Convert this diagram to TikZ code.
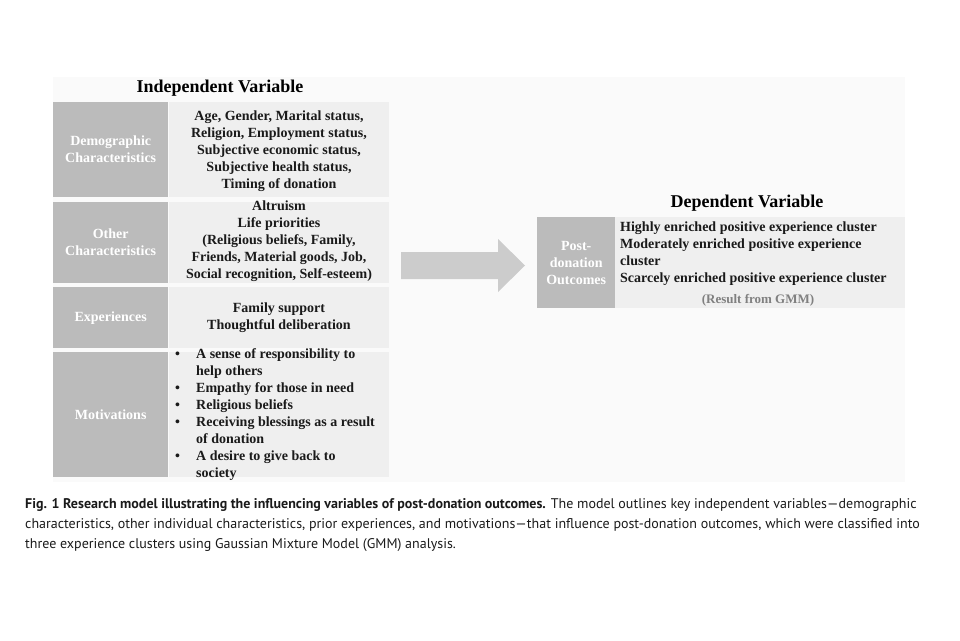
\documentclass[tikz,border=0pt]{standalone}
\usepackage{fontspec}
\setmainfont{Liberation Serif}
\newfontfamily\capfont{PT Sans}
\usepackage{tikz}
\usetikzlibrary{positioning}
\definecolor{labfill}{HTML}{BBBBBB}
\definecolor{cellfill}{HTML}{EFEFEF}
\definecolor{arrfill}{HTML}{CCCCCC}
\definecolor{backfill}{HTML}{FAFAFA}
\definecolor{inktext}{HTML}{1A1A1A}
\tikzset{
  labelbox/.style={fill=labfill, text=white, inner sep=0pt, align=center, anchor=north west,
    font=\bfseries\fontsize{14}{17}\selectfont},
  cellbox/.style={fill=cellfill, inner sep=0pt, anchor=north west},
  celltext/.style={text=inktext, inner sep=0pt, align=center, font=\bfseries\fontsize{14}{17}\selectfont},
  headtext/.style={text=black, inner sep=0pt, font=\bfseries\fontsize{18}{20}\selectfont}
}
\newcommand{\bul}{\makebox[21pt][l]{\textbullet}}
\newcommand{\ind}{\hspace*{21pt}}

\begin{document}
\begin{tikzpicture}[x=1pt, y=-1pt]
                \useasboundingbox (0,0) rectangle (960,640);
                \fill[backfill] (53,77) rectangle (905,482);
                % independent side
                \node[headtext] (indhead) at (220,88) {Independent Variable};
                \node[labelbox, minimum width=115pt, minimum height=95pt] (demolab) at (53,102) {Demographic\\Characteristics};
                \node[cellbox, minimum width=220pt, minimum height=95pt] (democell) at (169,102) {};
                \node[celltext] (demotext) at (279,151) {Age, Gender, Marital status,\\Religion, Employment status,\\Subjective economic status,\\Subjective health status,\\Timing of donation};
                \node[labelbox, minimum width=115pt, minimum height=81pt] (otherlab) at (53,202) {Other\\Characteristics};
                \node[cellbox, minimum width=220pt, minimum height=81pt] (othercell) at (169,202) {};
                \node[celltext] (othertext) at (279,241) {Altruism\\Life priorities\\(Religious beliefs, Family,\\Friends, Material goods, Job,\\Social recognition, Self-esteem)};
                \node[labelbox, minimum width=115pt, minimum height=61pt] (explab) at (53,287) {Experiences};
                \node[cellbox, minimum width=220pt, minimum height=61pt] (expcell) at (169,287) {};
                \node[celltext] (exptext) at (279,317.5) {Family support\\Thoughtful deliberation};
                \node[labelbox, minimum width=115pt, minimum height=125pt] (motlab) at (53,352) {Motivations};
                \node[cellbox, minimum width=220pt, minimum height=125pt] (motcell) at (169,352) {};
                \node[celltext, align=left, anchor=west] (mottext) at (175,414.5) {\bul A sense of responsibility to\\\ind help others\\\bul Empathy for those in need\\\bul Religious beliefs\\\bul Receiving blessings as a result\\\ind of donation\\\bul A desire to give back to\\\ind society};
                % arrow
                \fill[arrfill] (401,252) -- (498,252) -- (498,239) -- (525,265.5) -- (498,292) -- (498,279) -- (401,279) -- cycle;
                % dependent side
                \node[headtext] (dephead) at (747,203) {Dependent Variable};
                \node[labelbox, minimum width=78pt, minimum height=91pt] (postlab) at (537,217) {Post-\\donation\\Outcomes};
                \node[cellbox, minimum width=290pt, minimum height=91pt] (postcell) at (615,217) {};
                \node[celltext, align=left, anchor=north west] (posttext) at (620,222) {Highly enriched positive experience cluster\\Moderately enriched positive experience\\cluster\\Scarcely enriched positive experience cluster};
                \node[celltext, text=gray, font=\bfseries\fontsize{13}{15}\selectfont] (gmm) at (758,300) {(Result from GMM)};
                % caption
                \node[inner sep=0pt, anchor=north west, align=left, text=inktext, font=\capfont\fontsize{14}{20}\selectfont] (caption) at (25,498)
                  {{\bfseries Fig. 1 Research model illustrating the influencing variables of post-donation outcomes.} The model outlines key independent variables—demographic\\characteristics, other individual characteristics, prior experiences, and motivations—that influence post-donation outcomes, which were classified into\\three experience clusters using Gaussian Mixture Model (GMM) analysis.};
            \end{tikzpicture}
\end{document}
